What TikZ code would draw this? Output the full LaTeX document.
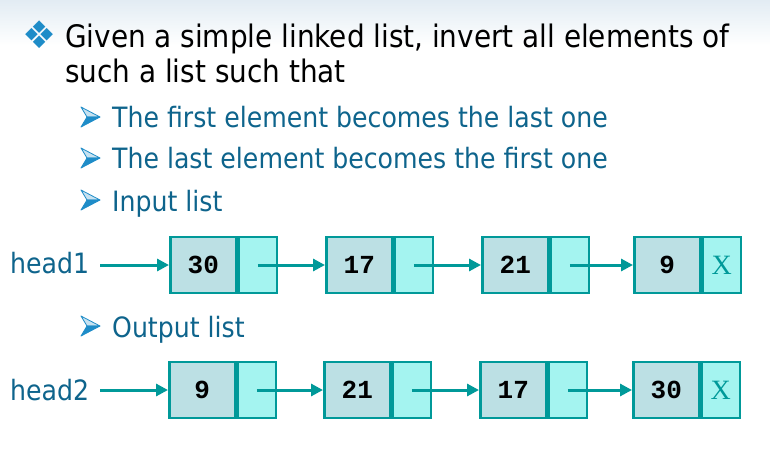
\documentclass[tikz,border=0pt]{standalone}
\usepackage{fontspec}
\setmainfont{DejaVu Sans Condensed}
\newfontfamily\codefont{Liberation Mono}
\newfontfamily\crossfont{Liberation Serif}
\newfontfamily\symfont{DejaVu Sans}
\usepackage{xcolor}
\definecolor{slideblue}{RGB}{14,100,140}
\definecolor{bulletblue}{RGB}{30,140,200}
\definecolor{cellborder}{RGB}{0,153,153}
\definecolor{datafill}{RGB}{188,224,228}
\definecolor{linkfill}{RGB}{164,244,240}
\definecolor{topshade}{RGB}{226,236,243}
\usetikzlibrary{calc}
\usetikzlibrary{arrows.meta}
\newcommand{\widthdata}{66pt}
\newcommand{\widthlink}{38pt}
\tikzset{
    common/.style={anchor=west, draw=cellborder, line width=2.5pt, rectangle, minimum height=56pt, inner sep=0pt},
    data/.style={common, fill=datafill, minimum width=\widthdata, font=\codefont\bfseries\fontsize{26}{26}\selectfont},
    link/.style={common, fill=linkfill, minimum width=\widthlink, text=cellborder, font=\crossfont\fontsize{28}{28}\selectfont},
    slidetext/.style={anchor=base west, inner sep=0pt, font=\fontsize{31}{34}\selectfont},
    subtext/.style={slidetext, text=slideblue, font=\fontsize{28}{32}\selectfont},
    headtext/.style={anchor=base west, inner sep=0pt, text=slideblue, font=\fontsize{28}{32}\selectfont},
    bullet/.style={inner sep=0pt, text=bulletblue, font=\symfont\fontsize{38}{38}\selectfont},
    arrowmark/.pic={
        \fill[bulletblue!25, draw=bulletblue, line width=0.8pt, line join=round] (10,0) -- (-9,-10) -- (-3,0) -- cycle;
        \fill[bulletblue, draw=bulletblue, line width=0.8pt, line join=round] (10,0) -- (-3,0) -- (-9,10) -- cycle;
    },
    pointer/.style={-{Triangle[length=12pt, width=12pt]}, cellborder, line width=3pt}
}

\begin{document}
\begin{tikzpicture}[x=1pt, y=-1pt]
    \useasboundingbox (0,0) rectangle (770,458);
    \shade[top color=topshade, bottom color=white] (0,0) rectangle (770,45);

    \path
        (40,35) node[bullet] (task-mark) {❖}
        (65,47) node[slidetext] (task-1) {Given a simple linked list, invert all elements of}
        (65,82) node[slidetext] (task-2) {such a list such that};

    \path
        (112,127) node[subtext] (rule-first) {The first element becomes the last one}
        (112,168) node[subtext] (rule-last) {The last element becomes the first one}
        (112,211) node[subtext] (input-title) {Input list}
        (112,337) node[subtext] (output-title) {Output list};

    \path
        (90,117) pic {arrowmark}
        (90,158) pic {arrowmark}
        (90,200) pic {arrowmark}
        (90,326) pic {arrowmark};

    % input list
    \path
        (10,273) node[headtext] (head1) {head1}
        (100,265) coordinate (head1-start)
        (169,265) node[data] (in-a) {30}
        (in-a.east) node[link] (in-a-next) {}
        (325,265) node[data] (in-b) {17}
        (in-b.east) node[link] (in-b-next) {}
        (481,265) node[data] (in-c) {21}
        (in-c.east) node[link] (in-c-next) {}
        (633,265) node[data] (in-d) {9}
        (in-d.east) node[link] (in-d-next) {X};

    \draw[pointer] (head1-start) -- (in-a);
    \draw[pointer] (in-a-next.center) -- (in-b);
    \draw[pointer] (in-b-next.center) -- (in-c);
    \draw[pointer] (in-c-next.center) -- (in-d);

    % output list
    \path
        (10,400) node[headtext] (head2) {head2}
        (100,390) coordinate (head2-start)
        (168,390) node[data] (out-a) {9}
        (out-a.east) node[link] (out-a-next) {}
        (323,390) node[data] (out-b) {21}
        (out-b.east) node[link] (out-b-next) {}
        (479,390) node[data] (out-c) {17}
        (out-c.east) node[link] (out-c-next) {}
        (632,390) node[data] (out-d) {30}
        (out-d.east) node[link] (out-d-next) {X};

    \draw[pointer] (head2-start) -- (out-a);
    \draw[pointer] (out-a-next.center) -- (out-b);
    \draw[pointer] (out-b-next.center) -- (out-c);
    \draw[pointer] (out-c-next.center) -- (out-d);
\end{tikzpicture}
\end{document}
